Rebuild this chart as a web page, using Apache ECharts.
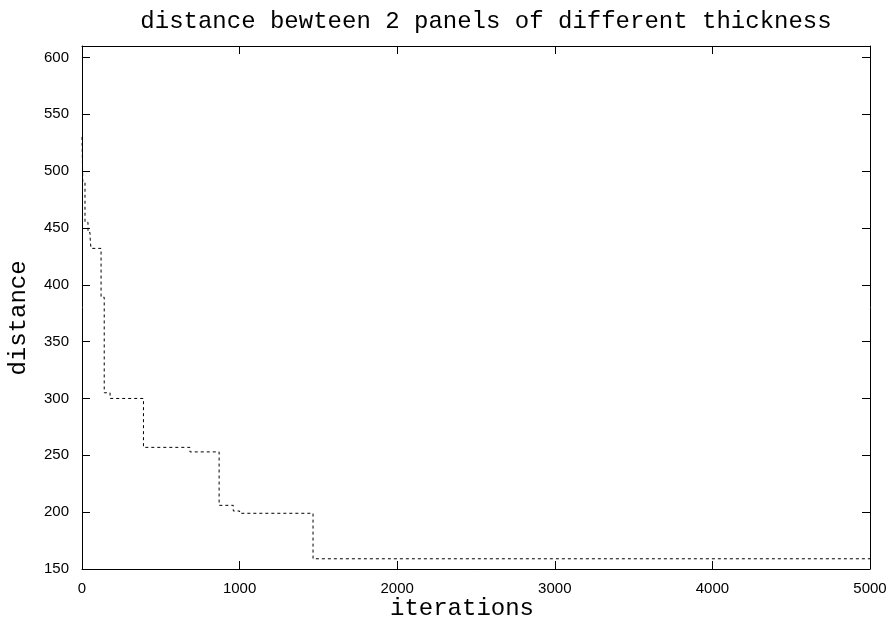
<!DOCTYPE html>
<html>
<head>
<meta charset="utf-8">
<script src="https://cdn.jsdelivr.net/npm/echarts@6/dist/echarts.min.js"></script>
<style>html,body{margin:0;padding:0;background:#fff;}#c{width:892px;height:621px;}</style>
</head>
<body>
<div id="c"></div>
<script>
var titleText = 'distance bewteen 2 panels of different thickness';
var xName = 'iterations';
var yName = 'distance';
var iterations = [0, 5, 19, 38, 51, 57, 121, 141, 178, 390, 685, 870, 960, 1000, 1466, 5000];
var distance   = [530, 490, 455, 446, 442, 432, 389, 305, 300, 257, 253, 206, 201, 199, 159, 159];
var xTicks = [0, 1000, 2000, 3000, 4000, 5000];
var yTicks = [150, 200, 250, 300, 350, 400, 450, 500, 550, 600];

var seriesData = iterations.map(function (it, i) { return [it, distance[i]]; });
var mono = 'Liberation Mono';
var sans = 'Liberation Sans';
function plain(v) { return String(v); }

var chart = echarts.init(document.getElementById('c'), null, {renderer: 'canvas'});
function xAx(pos, showLabel) {
  return {
    type: 'value', position: pos, min: 0, max: 5000, interval: 1000,
    name: showLabel ? xName : '', nameLocation: 'middle', nameGap: 28, nameMoveOverlap: false,
    nameTextStyle: {fontFamily: mono, fontSize: 24, color: '#000', padding: [0, 28, 0, 0]},
    axisLine: {show: true, onZero: false, lineStyle: {color: '#000', width: 1}},
    axisTick: {show: true, inside: true, length: 8, customValues: xTicks, lineStyle: {color: '#000'}},
    axisLabel: {show: showLabel, customValues: xTicks, formatter: plain, margin: 12, fontFamily: sans, fontSize: 15, color: '#000'},
    splitLine: {show: false}
  };
}
function yAx(pos, showLabel) {
  return {
    type: 'value', position: pos, min: 150, max: 610, interval: 50,
    name: showLabel ? yName : '', nameLocation: 'middle', nameGap: 51,
    nameTextStyle: {fontFamily: mono, fontSize: 24, color: '#000', padding: [0, 21, 0, 0]},
    axisLine: {show: true, onZero: false, lineStyle: {color: '#000', width: 1}},
    axisTick: {show: true, inside: true, length: 8, customValues: yTicks, lineStyle: {color: '#000'}},
    axisLabel: {show: showLabel, customValues: yTicks, formatter: plain, margin: 13, fontFamily: sans, fontSize: 15, color: '#000'},
    splitLine: {show: false}
  };
}
chart.setOption({
  animation: false,
  backgroundColor: '#fff',
  title: {
    text: titleText, left: 481, top: 5, textAlign: 'center',
    textStyle: {fontFamily: mono, fontSize: 24, fontWeight: 'normal', color: '#000'}
  },
  grid: {left: 82, right: 22, top: 46, bottom: 52, containLabel: false, outerBoundsMode: 'none'},
  xAxis: [xAx('bottom', true), xAx('top', false)],
  yAxis: [yAx('left', true), yAx('right', false)],
  series: [{
    type: 'line', xAxisIndex: 0, yAxisIndex: 0,
    data: seriesData, step: 'end', showSymbol: false, symbol: 'none',
    lineStyle: {color: '#000', width: 1, type: [3, 3]}
  }]
});
</script>
</body>
</html>
